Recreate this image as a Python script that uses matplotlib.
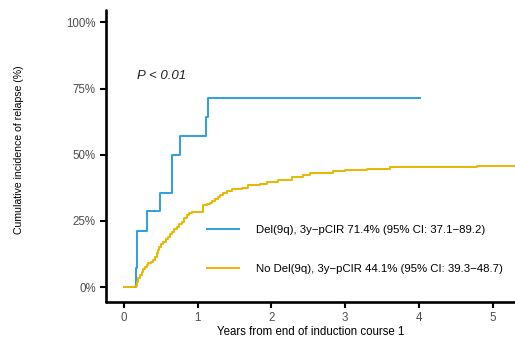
import numpy as np
import matplotlib.pyplot as plt

plt.rcParams['font.family'] = ['Liberation Sans', 'DejaVu Sans']

# Del(9q): event times (years) and cumulative incidence (%)
del_t = [0.0, 0.165, 0.172, 0.18, 0.316, 0.488, 0.645, 0.652, 0.764, 1.109, 1.144, 4.02]
del_y = [0.0, 7.1, 14.3, 21.4, 28.6, 35.7, 42.9, 50.0, 57.1, 64.3, 71.4, 71.4]

# No Del(9q)
nodel_t = [0.0, 0.104, 0.149, 0.17, 0.194, 0.215, 0.240, 0.262, 0.285, 0.31, 0.330, 0.36,
           0.398, 0.42, 0.444, 0.46, 0.479, 0.505, 0.533, 0.565, 0.601, 0.625, 0.647,
           0.68, 0.715, 0.75, 0.783, 0.815, 0.851, 0.885, 0.919, 1.076, 1.12, 1.167,
           1.2, 1.235, 1.27, 1.303, 1.347, 1.40, 1.461, 1.597, 1.687, 1.845, 1.936,
           2.094, 2.275, 2.433, 2.524, 2.84, 3.0, 3.293, 3.609, 4.786, 5.4]
nodel_y = [0.0, 0.1, 0.5, 1.8, 3.4, 4.6, 5.9, 6.8, 7.8, 8.5, 9.1, 9.7,
           10.3, 11.5, 12.8, 14.0, 15.3, 16.3, 17.2, 18.2, 19.1, 20.1, 21.0,
           22.0, 22.9, 23.9, 24.8, 26.0, 27.3, 27.9, 28.5, 31.0, 31.5, 31.9,
           32.6, 33.2, 34.0, 34.8, 35.7, 36.3, 36.9, 37.4, 38.6, 39.0, 39.9,
           40.5, 41.5, 42.4, 43.3, 43.9, 44.4, 44.8, 45.2, 45.7, 45.7]

labels = ["Del(9q), 3y\u2212pCIR 71.4% (95% CI: 37.1\u221289.2)",
          "No Del(9q), 3y\u2212pCIR 44.1% (95% CI: 39.3\u221248.7)"]
colors = ["#2E9FDF", "#E7B800"]

fig = plt.figure(figsize=(5.15, 3.4), dpi=100)
ax = fig.add_axes([0.206, 0.112, 0.794, 0.859])

ax.step(del_t, del_y, where="post", color=colors[0], lw=1.4, label=labels[0])
ax.step(nodel_t, nodel_y, where="post", color=colors[1], lw=1.4, label=labels[1])

ax.set_xlim(-0.244, 5.305)
ax.set_ylim(-5.55, 104.7)
ax.set_xticks([0, 1, 2, 3, 4, 5])
ax.set_yticks([0, 25, 50, 75, 100])
ax.set_yticklabels(["0%", "25%", "50%", "75%", "100%"])

for s in ["top", "right"]:
    ax.spines[s].set_visible(False)
for s in ["left", "bottom"]:
    ax.spines[s].set_linewidth(1.9)
    ax.spines[s].set_capstyle("round")
ax.tick_params(length=4.5, width=1.5, labelsize=8.3, labelcolor="#4d4d4d", pad=3)

ax.set_xlabel("Years from end of induction course 1", fontsize=8.3, labelpad=1)
ax.set_ylabel("Cumulative incidence of relapse (%)", fontsize=7.6)
ax.yaxis.set_label_coords(-0.201, 0.52)

ax.text(0.17, 78.5, "P < 0.01", style="italic", fontsize=9.5, color="#222222")

ax.legend(loc="upper left", bbox_to_anchor=(0.222, 0.297), frameon=False,
          fontsize=8.2, handlelength=2.8, handletextpad=1.5, labelspacing=2.55)

fig.savefig("out.png", dpi=100)
